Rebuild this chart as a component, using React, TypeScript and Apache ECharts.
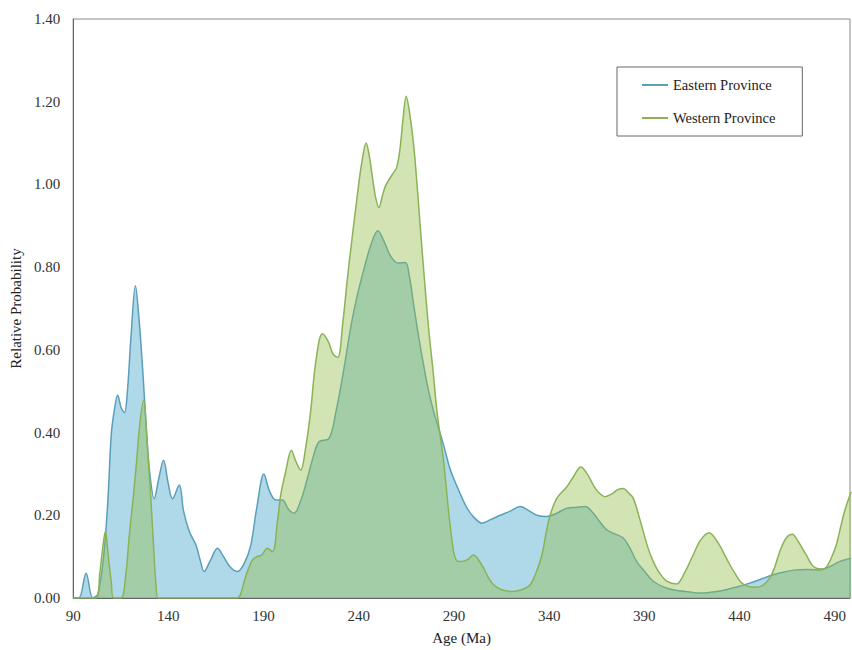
import React, { useEffect, useRef } from "react";
import * as echarts from "echarts";

const xTicks = [90, 140, 190, 240, 290, 340, 390, 440, 490];
const seriesNames = ["Eastern Province", "Western Province"];

const eastAge = [
  90, 93, 96.8, 100.3, 103, 106, 108.2, 110, 111.5, 113.4, 115.2, 116.9, 118.5, 120.5, 122.7, 124.5,
  126.5, 128.3, 130, 132.6, 135, 137.5, 139.8, 142.2, 145.7, 148, 151, 154.5, 156.8, 158.8, 162,
  165.8, 169, 172.5, 176.3, 180, 183.3, 186.5, 190.2, 193, 196.4, 199.9, 203, 206, 209.5, 213, 216,
  219.1, 224.4, 228, 232.2, 236, 239.2, 243, 246.2, 250, 253.5, 256.7, 260.5, 264.5, 266.5, 268.9,
  271.5, 274.1, 276.7, 279.4, 284.6, 288.1, 291.6, 296.9, 300.5, 304.7, 309.5, 314.3, 319.5, 324.8,
  329, 333.5, 338.8, 344, 349.3, 354, 358.9, 363.2, 366.5, 370.2, 374.5, 378.9, 382.5, 386, 390,
  394.5, 400, 405, 413, 420.7, 427, 433, 439, 445.3, 451.5, 457.6, 463.5, 469.8, 476, 482, 487,
  492.5, 498.6,
];
const eastProb = [
  0, 0, 0.06, 0, 0.01, 0.1, 0.233, 0.394, 0.45, 0.49, 0.46, 0.448, 0.5, 0.64, 0.755, 0.68,
  0.554, 0.42, 0.313, 0.24, 0.29, 0.333, 0.28, 0.24, 0.273, 0.21, 0.161, 0.128, 0.09, 0.064, 0.09,
  0.12, 0.1, 0.075, 0.064, 0.085, 0.128, 0.22, 0.3, 0.26, 0.237, 0.237, 0.215, 0.205, 0.235, 0.289, 0.34,
  0.378, 0.386, 0.45, 0.554, 0.66, 0.731, 0.8, 0.851, 0.888, 0.86, 0.827, 0.81, 0.811, 0.78, 0.707,
  0.63, 0.562, 0.5, 0.45, 0.369, 0.31, 0.27, 0.217, 0.195, 0.181, 0.19, 0.2, 0.21, 0.221,
  0.212, 0.2, 0.197, 0.205, 0.217, 0.219, 0.221, 0.205, 0.185, 0.165, 0.155, 0.145, 0.12, 0.088, 0.065,
  0.041, 0.027, 0.02, 0.015, 0.012, 0.015, 0.02, 0.027, 0.036, 0.046, 0.056, 0.063, 0.068, 0.069, 0.068, 0.075,
  0.088, 0.096,
];

const westAge = [
  90, 102, 104, 105.5, 106.9, 108.5, 110, 111.3, 115.2, 117.5, 119.5, 121.5, 123, 125, 127, 128.8,
  130.9, 132.3, 133.5, 134.7, 176.3, 178, 179.8, 182, 184.2, 186.5, 189, 192, 194.7, 197.3, 199,
  201.6, 204.6, 207, 209.5, 212, 214.7, 217.4, 220.9, 224, 226.5, 229, 231.5, 234, 236.5, 239.2,
  241.5, 243.9, 245.5, 247.1, 248.8, 250.6, 252.3, 254, 257.6, 259.8, 261.5, 263.3, 264.9, 266.8,
  268.9, 270.6, 272.4, 274.5, 276.7, 279, 281.1, 284.6, 287.2, 289.8, 291.5, 293.4, 296.9, 300.3,
  302.5, 305.6, 308, 310.8, 315, 320.5, 325.5, 330, 333, 336.2, 338.5, 340.5, 344, 349.3, 353, 356.6,
  360, 363.2, 366, 369.4, 373, 376, 378.9, 381.5, 384.2, 387, 389.4, 392, 394.7, 398, 402, 406.9,
  411, 415.6, 419.5, 424, 428.5, 433.1, 437.5, 441.8, 448, 452, 455.8, 458.5, 461.1, 464.5, 467.7,
  471, 475, 478, 480.3, 483, 485.5, 488, 490.8, 493, 495.1, 498.6,
];
const westProb = [
  0, 0, 0.06, 0.12, 0.161, 0.1, 0.04, 0, 0, 0.05, 0.152, 0.24, 0.313, 0.42, 0.478, 0.38,
  0.233, 0.12, 0.032, 0, 0, 0.01, 0.04, 0.07, 0.092, 0.1, 0.104, 0.12, 0.112, 0.185, 0.249,
  0.305, 0.357, 0.33, 0.309, 0.36, 0.45, 0.57, 0.639, 0.62, 0.59, 0.582, 0.66, 0.771, 0.87, 0.972,
  1.05, 1.1, 1.07, 1.02, 0.97, 0.944, 0.97, 0.996, 1.024, 1.04, 1.08, 1.16, 1.213, 1.17,
  1.092, 1.0, 0.892, 0.77, 0.651, 0.55, 0.45, 0.329, 0.209, 0.112, 0.09, 0.088, 0.092, 0.104,
  0.095, 0.072, 0.05, 0.032, 0.02, 0.016, 0.02, 0.032, 0.06, 0.104, 0.16, 0.2, 0.241, 0.269, 0.295, 0.317,
  0.3, 0.273, 0.255, 0.245, 0.252, 0.262, 0.265, 0.255, 0.241, 0.2, 0.161, 0.12, 0.088, 0.06, 0.04, 0.034,
  0.06, 0.104, 0.14, 0.158, 0.135, 0.096, 0.06, 0.034, 0.026, 0.03, 0.048, 0.075, 0.112, 0.145, 0.154,
  0.135, 0.104, 0.08, 0.072, 0.07, 0.074, 0.095, 0.128, 0.17, 0.209, 0.257,
];

const FONT = "Liberation Serif";

export default function App() {
  const ref = useRef<HTMLDivElement>(null);
  useEffect(() => {
    if (!ref.current) return;
    const chart = echarts.init(ref.current, null, { renderer: "svg" });
    const east = eastAge.map((a, i) => [a, eastProb[i]]);
    const west = westAge.map((a, i) => [a, westProb[i]]);
    chart.setOption({
      animation: false,
      backgroundColor: "#ffffff",
      textStyle: { fontFamily: FONT },
      grid: {
        left: 72,
        top: 19,
        right: 2,
        bottom: 50,
        show: true,
        borderColor: "#8a8a8a",
        borderWidth: 1,
        backgroundColor: "transparent",
      },
      legend: {
        orient: "vertical",
        left: 617,
        top: 67,
        data: seriesNames,
        icon: "rect",
        itemWidth: 26,
        itemHeight: 2,
        itemGap: 17,
        padding: [10, 27, 10, 25],
        borderColor: "#666",
        borderWidth: 1,
        textStyle: { fontFamily: FONT, fontSize: 14.5, color: "#222", lineHeight: 16 },
      },
      xAxis: {
        type: "value",
        min: 90,
        max: 498,
        name: "Age (Ma)",
        nameLocation: "middle",
        nameGap: 32,
        nameTextStyle: { fontFamily: FONT, fontSize: 15, color: "#222" },
        axisLine: { show: true, lineStyle: { color: "#666", width: 1 } },
        axisTick: { show: false },
        splitLine: { show: false },
        axisLabel: {
          customValues: xTicks,
          margin: 10,
          fontFamily: FONT,
          fontSize: 15,
          color: "#333",
        },
      },
      yAxis: {
        type: "value",
        min: 0,
        max: 1.4,
        interval: 0.2,
        name: "Relative Probability",
        nameLocation: "middle",
        nameGap: 48,
        nameTextStyle: { fontFamily: FONT, fontSize: 15, color: "#222" },
        axisLine: { show: true, lineStyle: { color: "#666", width: 1 } },
        axisTick: { show: false },
        splitLine: { show: false },
        axisLabel: {
          margin: 13,
          fontFamily: FONT,
          fontSize: 15,
          color: "#333",
          formatter: (v: number) => v.toFixed(2),
        },
      },
      series: [
        {
          name: seriesNames[0],
          type: "line",
          data: east,
          smooth: 0.35,
          showSymbol: false,
          itemStyle: { color: "#5a9fba" },
          lineStyle: { color: "#5a9fba", width: 1.5 },
          areaStyle: { color: "rgba(58,160,200,0.58)", origin: "start" },
          z: 2,
        },
        {
          name: seriesNames[1],
          type: "line",
          data: west,
          smooth: 0.35,
          showSymbol: false,
          itemStyle: { color: "#8ab356" },
          lineStyle: { color: "#8ab356", width: 1.5 },
          areaStyle: { color: "rgba(148,190,70,0.58)", origin: "start" },
          z: 3,
        },
      ],
    });
    return () => chart.dispose();
  }, []);
  return (
    <div
      ref={ref}
      style={{ position: "fixed", left: 0, top: 0, width: 852, height: 650, background: "#fff" }}
    />
  );
}
